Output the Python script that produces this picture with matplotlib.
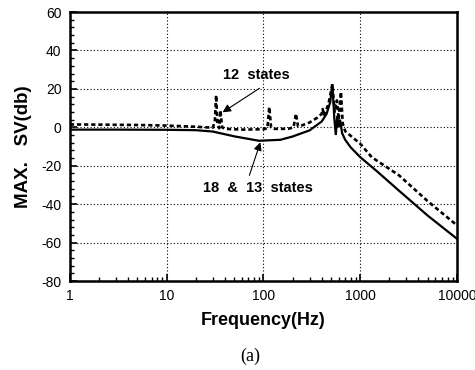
import matplotlib
matplotlib.use("Agg")
import matplotlib.pyplot as plt
from matplotlib.ticker import MultipleLocator, LogLocator, NullFormatter, FixedLocator

# 12 states (dashed)
freq_12 = [1, 2, 5, 10, 20, 30, 31.5, 32.5, 33.5, 35, 36, 37.5, 40, 60, 100, 110,
           115, 120, 130, 180, 205, 217, 228, 250, 300, 360, 400, 410, 420, 470,
           516, 545, 575, 600, 633, 660, 700, 800, 1000, 1320, 2520, 5000, 10000]
db_12 = [1.5, 1.4, 1.2, 0.9, 0.3, -0.2, 3, 16.7, 2, -0.5, 8.8, 0, -0.8, -1.2, -1.0, -0.5,
         10.6, 0, -0.8, -0.8, 0, 7.1, 0.5, 1, 2.5, 5, 7, 9.5, 6, 12,
         22.5, 8, 14, 4, 18.4, 2, -2, -4.5, -8.5, -15.6, -25, -38.5, -51]

# 18 & 13 states (solid)
freq_18 = [1, 3, 10, 20, 30, 50, 90, 150, 200, 300, 400, 450, 490, 516, 540, 560,
           580, 600, 620, 650, 700, 800, 1000, 1500, 2520, 5000, 10000]
db_18 = [-1.2, -1.2, -1.3, -1.5, -2.2, -4.7, -7.0, -6.5, -4.8, -1.6, 3, 7, 13, 22.5, 5, -4,
         6, 0, 4, -3, -6.5, -10.5, -15.5, -23, -33, -46, -58]

xticks = [1, 10, 100, 1000, 10000]
xticklabels = ["1", "10", "100", "1000", "10000"]
yticks = [-80, -60, -40, -20, 0, 20, 40, 60]

plt.rcParams['font.family'] = ['Liberation Sans', 'DejaVu Sans']
plt.rcParams['axes.unicode_minus'] = False

fig = plt.figure(figsize=(4.75, 3.7), dpi=100)
ax = fig.add_axes([0.147, 0.2405, 0.815, 0.727])

ax.plot(freq_18, db_18, color='black', lw=1.6, solid_joinstyle='miter')
ax.plot(freq_12, db_12, color='black', lw=1.9, linestyle=(0, (1.6, 1.1)))

ax.set_xscale('log')
ax.set_xlim(1, 10000)
ax.set_ylim(-80, 60)
ax.xaxis.set_major_locator(FixedLocator(xticks))
ax.set_xticklabels(xticklabels)
ax.xaxis.set_minor_locator(LogLocator(base=10, subs=range(2, 10)))
ax.xaxis.set_minor_formatter(NullFormatter())
ax.set_yticks(yticks)
ax.yaxis.set_minor_locator(MultipleLocator(4))

ax.grid(True, which='major', linestyle=(0, (1, 2)), color='black', lw=0.8)
ax.tick_params(which='both', direction='in', top=False, right=False, labelsize=10, pad=6)
ax.tick_params(which='major', length=5, width=1.2)
ax.tick_params(which='minor', length=3, width=1.0)
for s in ax.spines.values():
    s.set_linewidth(1.8)

ax.set_xlabel("Frequency(Hz)", fontsize=13, fontweight='bold', labelpad=6)
ax.set_ylabel("MAX.   SV(db)", fontsize=13.5, fontweight='bold', labelpad=7)

ax.text(84.7, 27.1, "12  states", ha='center', va='center', fontsize=10.5, fontweight='bold')
ax.annotate("", xy=(37.9, 7.8), xytext=(91, 20.3),
            arrowprops=dict(arrowstyle='-|>', color='black', lw=0.8, shrinkA=0, shrinkB=0,
                            mutation_scale=12))
ax.text(86.9, -31.8, "18  &  13  states", ha='center', va='center', fontsize=10.5,
        fontweight='bold')
ax.annotate("", xy=(93, -7.8), xytext=(71.7, -25),
            arrowprops=dict(arrowstyle='-|>', color='black', lw=0.8, shrinkA=0, shrinkB=0,
                            mutation_scale=12))

fig.text(250 / 475, 1 - 356 / 370, "(a)", ha='center', va='center', fontsize=13,
         family=['Liberation Serif', 'DejaVu Serif'])

fig.savefig("out.png", dpi=100)
